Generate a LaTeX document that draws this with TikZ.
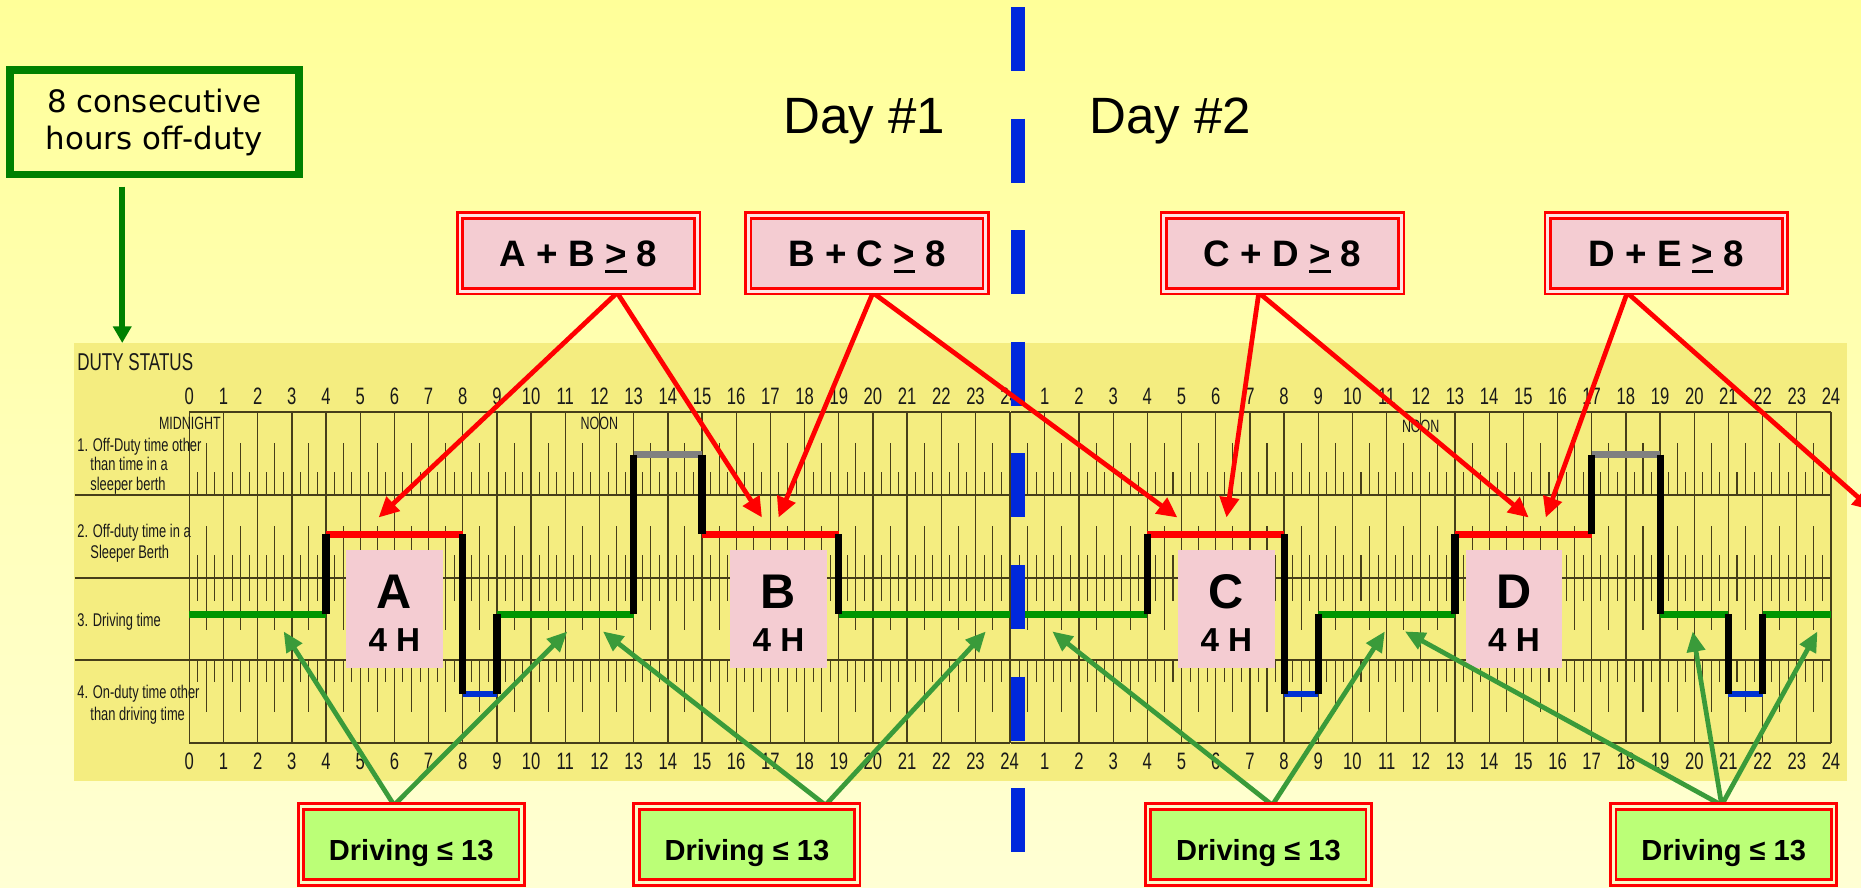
\documentclass[tikz,border=0pt]{standalone}
\usepackage{fontspec}
\setmainfont{Liberation Sans}
\newfontfamily\verdana{DejaVu Sans}
\newfontfamily\logfont[FakeStretch=0.7]{Liberation Sans}
\usetikzlibrary{arrows.meta}

\definecolor{bgtop}{RGB}{255,255,153}
\definecolor{bgbottom}{RGB}{255,255,212}
\definecolor{logyellow}{RGB}{244,237,128}
\definecolor{logline}{RGB}{70,62,25}
\definecolor{offgreen}{RGB}{0,128,0}
\definecolor{arrowgreen}{RGB}{58,155,58}
\definecolor{dayblue}{RGB}{0,40,220}
\definecolor{pinkfill}{RGB}{244,204,210}
\definecolor{pinkgap}{RGB}{255,228,228}
\definecolor{limefill}{RGB}{187,255,119}
\definecolor{limegap}{RGB}{250,250,200}
\definecolor{status1}{RGB}{128,128,128}
\definecolor{status2}{RGB}{255,0,0}
\definecolor{status3}{RGB}{0,150,0}
\definecolor{status4}{RGB}{0,50,210}

% underlined > as in the slide
\newcommand{\ulgt}{\setbox0\hbox{>}\rlap{\rule[-5pt]{\wd0}{2.4pt}}\box0}

\begin{document}
\begin{tikzpicture}[x=1pt,y=-1pt,
  ruleline/.style={logline, line width=1.8pt},
  hourline/.style={logline, line width=1.1pt},
  gridtick/.style={logline, line width=0.9pt},
  lognum/.style={anchor=base, inner sep=0pt, font=\logfont\fontsize{20}{20}\selectfont, text=black!90},
  rowlabel/.style={anchor=base west, inner sep=0pt, font=\logfont\fontsize{15.5}{15.5}\selectfont, text=black!90},
  letterbox/.style={fill=pinkfill, minimum width=81.5pt, minimum height=100pt, inner sep=0pt},
  bigletter/.style={anchor=base, inner sep=0pt, font=\bfseries\fontsize{41}{41}\selectfont},
  hourtext/.style={anchor=base, inner sep=0pt, font=\bfseries\fontsize{28}{28}\selectfont},
  redbox/.style={draw=red, line width=2.3pt, double=pinkgap, double distance=2.3pt, fill=pinkfill,
    minimum width=200pt, minimum height=64pt, inner sep=0pt, text height=22.2pt, text depth=0pt,
    font=\bfseries\fontsize{31}{31}\selectfont},
  drivebox/.style={draw=red, line width=2.3pt, double=limegap, double distance=2.3pt, fill=limefill,
    minimum width=186pt, minimum height=64pt, inner sep=0pt, text height=27pt, text depth=0pt,
    font=\bfseries\fontsize{24.5}{24.5}\selectfont},
  redarrow/.style={red, line width=4pt, -{Triangle[length=17pt,width=16pt]}},
  greenarrow/.style={arrowgreen, line width=4pt, -{Triangle[length=17pt,width=15pt]}}]

\useasboundingbox (0,0) rectangle (1568,748);
\shade[top color=bgtop, bottom color=bgbottom] (0,0) rectangle (1568,748);

% the log sheet
\fill[logyellow] (62,289) rectangle (1556,658);
\coordinate (logtop) at (103,289);
\node[anchor=base west, inner sep=0pt, font=\logfont\fontsize{20.5}{20.5}\selectfont, text=black!90] (dutystatus) at (65,312) {DUTY STATUS};

\foreach \d in {0,1}
{	\pgfmathsetmacro{\xa}{159.5+692*\d}
	\pgfmathsetmacro{\xb}{\xa+691.2}
	\pgfmathsetmacro{\xl}{ifthenelse(\d==0,63,\xa)}
	\draw[ruleline] (\xa,347) -- (\xb,347); %top
	\draw[ruleline] (\xa,626) -- (\xb,626); %bottom
	\foreach \y in {417,487,556}
		\draw[ruleline] (\xl,\y) -- (\xb,\y); %row lines
	\foreach \h in {0,...,24}
		\draw[hourline] (\xa+28.8*\h,347) -- (\xa+28.8*\h,626);
	\foreach \h in {0,...,23}
	{	\foreach \q/\len in {1/19,2/44,3/19}
		{	\pgfmathsetmacro{\xt}{\xa+28.8*\h+7.2*\q}
			\draw[gridtick] (\xt,417) -- ++(0,-\len);
			\draw[gridtick] (\xt,487) -- ++(0,-\len);
			\draw[gridtick] (\xt,487) -- ++(0,\len);
			\draw[gridtick] (\xt,556) -- ++(0,\len);
		}
	}
	\foreach \h in {\d,...,24}
	{	\node[lognum] (top-\d-\h) at (\xa+28.8*\h,341.2) {\h};
		\node[lognum] (bot-\d-\h) at (\xa+28.8*\h,648.7) {\h};
	}
}

\node[inner sep=0pt, font=\logfont\fontsize{15}{15}\selectfont, text=black!90] (midnight) at (160,357) {MIDNIGHT};
\node[inner sep=0pt, font=\logfont\fontsize{15}{15}\selectfont, text=black!90] (noon1) at (505,357) {NOON};
\node[inner sep=0pt, font=\logfont\fontsize{15}{15}\selectfont, text=black!90] (noon2) at (1197,359) {NOON};

\node[rowlabel] (lab1a) at (65,380) {1. Off-Duty time other};
\node[rowlabel] (lab1b) at (76,396.5) {than time in a};
\node[rowlabel] (lab1c) at (76,413) {sleeper berth};
\node[rowlabel] (lab2a) at (65,452.5) {2. Off-duty time in a};
\node[rowlabel] (lab2b) at (76,470.5) {Sleeper Berth};
\node[rowlabel] (lab3a) at (65,528) {3. Driving time};
\node[rowlabel] (lab4a) at (65,588.5) {4. On-duty time other};
\node[rowlabel] (lab4b) at (76,607) {than driving time};

% duty status trace: day/start/end/row
\foreach \d/\s/\e/\l in {0/0/4/3,0/4/8/2,0/8/9/4,0/9/13/3,0/13/15/1,0/15/19/2,0/19/24/3,
	1/0/4/3,1/4/8/2,1/8/9/4,1/9/13/3,1/13/17/2,1/17/19/1,1/19/21/3,1/21/22/4,1/22/24/3}
{	\draw[color=status\l, line width=5.5pt] (159.5+692*\d+28.8*\s,{383+67.3*(\l-1)}) -- (159.5+692*\d+28.8*\e,{383+67.3*(\l-1)});
}
% changes of status: day/hour/from/to
\foreach \d/\t/\a/\b in {0/4/3/2,0/8/2/4,0/9/4/3,0/13/3/1,0/15/1/2,0/19/2/3,
	1/4/3/2,1/8/2/4,1/9/4/3,1/13/3/2,1/17/2/1,1/19/1/3,1/21/3/4,1/22/4/3}
{	\draw[black, line width=6pt] (159.5+692*\d+28.8*\t,{383+67.3*(\a-1)}) -- (159.5+692*\d+28.8*\t,{383+67.3*(\b-1)});
}

% sleeper periods
\foreach \n/\x in {A/332.3,B/655.9,C/1033.3,D/1275.7}
{	\node[letterbox] (box\n) at (\x,513) {};
	\node[bigletter] (let\n) at (\x,512.6) {\n};
	\node[hourtext] (hrs\n) at (\x,549) {4 H};
}

% day break
\draw[dayblue, line width=12pt, dash pattern=on 54pt off 40pt] (858,6) -- (858,720);
\node[anchor=base, inner sep=0pt, font=\fontsize{43}{43}\selectfont] (day1) at (728,112.3) {Day \#1};
\node[anchor=base, inner sep=0pt, font=\fontsize{43}{43}\selectfont] (day2) at (986,112.3) {Day \#2};

% 8 hours off duty
\node[draw=offgreen, line width=6.5pt, minimum width=243.3pt, minimum height=88pt, align=center,
	font=\verdana\fontsize{26}{31.5}\selectfont] (offduty) at (130,103) {8 consecutive\\hours off-duty};
\draw[offgreen, line width=4.7pt, -{Triangle[length=14pt,width=15pt]}] ([xshift=-27pt,yshift=-7pt]offduty.south) -- (logtop);

% arrow ends
\foreach \n/\x in {A1/319,A2/642,B1/656,B2/992,C1/1033.4,C2/1288,D1/1302.4}
	\coordinate (red\n) at (\x,436);
\coordinate (redE) at (1578,430);
\foreach \n/\x in {11/239,12/478,21/508,22/830.6,31/886.6,32/1166.8,41/1183.7,42/1426.2,43/1531.3}
	\coordinate (drv\n) at (\x,532);

\node[redbox] (ab) at (487.5,213.5) {};
\node[redbox] (bc) at (730.5,213.5) {};
\node[redbox] (cd) at (1080.6,213.5) {};
\node[redbox] (de) at (1404,213.5) {};
\foreach \n/\x in {1/346.5,2/629.3,3/1060.3,4/1452.3}
	\node[drivebox] (drive\n) at (\x,711.5) {};

\draw[redarrow] ([xshift=32.5pt]ab.south) -- (redA1);
\draw[redarrow] ([xshift=32.5pt]ab.south) -- (redA2);
\draw[redarrow] ([xshift=5pt]bc.south) -- (redB1);
\draw[redarrow] ([xshift=5pt]bc.south) -- (redB2);
\draw[redarrow] ([xshift=-20pt]cd.south) -- (redC1);
\draw[redarrow] ([xshift=-20pt]cd.south) -- (redC2);
\draw[redarrow] ([xshift=-33pt]de.south) -- (redD1);
\draw[redarrow] ([xshift=-33pt]de.south) -- (redE);

\draw[greenarrow] ([xshift=-14.5pt]drive1.north) -- (drv11);
\draw[greenarrow] ([xshift=-14.5pt]drive1.north) -- (drv12);
\draw[greenarrow] ([xshift=66.2pt]drive2.north) -- (drv21);
\draw[greenarrow] ([xshift=66.2pt]drive2.north) -- (drv22);
\draw[greenarrow] ([xshift=11.7pt]drive3.north) -- (drv31);
\draw[greenarrow] ([xshift=11.7pt]drive3.north) -- (drv32);
\draw[greenarrow] ([xshift=-1.7pt]drive4.north) -- (drv41);
\draw[greenarrow] ([xshift=-1.7pt]drive4.north) -- (drv42);
\draw[greenarrow] ([xshift=-1.7pt]drive4.north) -- (drv43);

% box texts on top of the arrow starts
\node[redbox] (abtext) at (ab) {A + B \ulgt{} 8};
\node[redbox] (bctext) at (bc) {B + C \ulgt{} 8};
\node[redbox] (cdtext) at (cd) {C + D \ulgt{} 8};
\node[redbox] (detext) at (de) {D + E \ulgt{} 8};
\foreach \n in {1,...,4}
	\node[drivebox] (drivetext\n) at (drive\n) {Driving ≤ 13};
\end{tikzpicture}
\end{document}
